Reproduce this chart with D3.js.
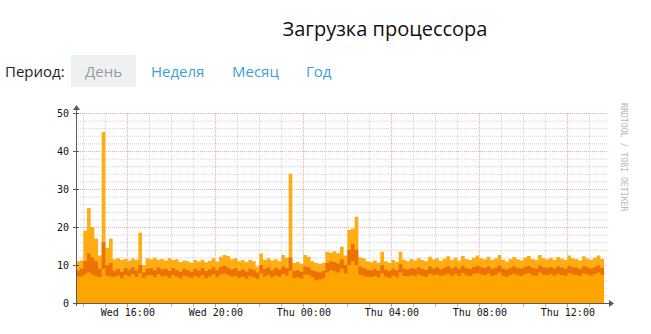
<!DOCTYPE html>
<html>
<head>
<meta charset="utf-8">
<script src="https://cdn.jsdelivr.net/npm/d3@7"></script>
<style>
  body { margin: 0; background: #fff; }
  svg { display: block; }
</style>
</head>
<body>
<svg id="chart" width="651" height="334"></svg>
<script>
// 10-minute samples, Wed 13:40 -> Thu 13:40
const startTime = new Date(2024, 0, 3, 13, 40);
const stepMinutes = 10;

const maxValues = [11,11.2,19,25,20,17,12.5,45,14.5,17,
  11.5,11.8,11.3,11.6,11.2,11.7,11.4,18.5,10,11.8,
  11.5,11.9,11.4,11.6,11.2,11.8,11.3,11.5,10.8,11.2,
  11,10.6,11.3,10.9,11.4,10.7,11.1,11.8,10.9,12.2,
  12.6,12.4,11.5,11.8,11,11.3,10.8,11.4,11,9.6,
  13,11.4,11.8,11.2,11.5,11,12.6,11.9,34,10.5,
  10.8,10.3,12.6,12.2,11,10.5,10.3,10.6,13.5,13.2,
  13.6,13.1,14.8,12.5,19.2,19.6,22.7,12,11.8,11,
  10.7,11.2,10.6,13.5,11,10.5,11.3,10.8,13.5,11.4,
  11,11.6,11.2,11.8,11.3,11,12.2,11.5,11.8,11.1,
  11.7,12.3,11.4,11.9,11.2,12.4,11.6,11.3,11.9,12.5,
  11.8,11.5,12.2,11.3,11.7,12.6,11.4,10.9,11.6,12.1,
  11.5,11.2,11.9,12.4,11.6,11.3,12.6,11.8,11.5,11.9,
  11.4,12.1,11.7,11.3,12.5,11.8,11.6,11.2,12.3,11.7,
  11.4,11.9,12.5,11.6,11.8];

const avgValues = [8.5,9,11,13,12,11,9,16,10,10.5,
  8.5,9,8.2,9.2,8.8,9.4,8.6,10,8,9,
  9.2,8.6,9.4,8.8,9,8.4,9.2,8.7,8.2,9,
  8.6,8.2,9,8.5,9.2,8.4,8.8,9.4,8.6,9.5,
  9.8,9.3,8.8,9.2,8.5,8.9,8.3,9,8.7,8,
  10,9,9.4,8.6,9.2,8.8,9.6,9.2,12,8.4,
  8.6,8.2,9.6,9.4,8.6,8.3,8,8.4,10.5,11,
  10.8,10.4,11.5,10,14,15.5,14,9.6,9.2,8.8,
  8.6,9,8.5,10,8.8,8.4,9,8.6,10.2,9,
  8.8,9.2,9,9.4,9,8.7,9.6,9.1,9.4,8.9,
  9.3,9.7,9.1,9.5,9,9.8,9.2,9,9.5,9.8,
  9.4,9.2,9.7,9,9.3,9.9,9.1,8.8,9.3,9.6,
  9.2,9,9.5,9.8,9.3,9.1,9.9,9.4,9.2,9.5,
  9.1,9.6,9.3,9,9.8,9.4,9.3,9,9.7,9.4,
  9.1,9.5,9.9,9.3,9.4];

const minValues = [7,7,7.5,8,7.5,7,6.8,9,7.2,7,
  6.8,7.2,6.5,7.4,7,7.6,6.9,7.8,6.6,7.3,
  7.4,6.8,7.6,7,7.2,6.6,7.4,6.9,6.5,7.2,
  6.9,6.5,7.2,6.7,7.4,6.6,7,7.6,6.8,7.5,
  7.8,7.3,6.9,7.2,6.6,7,6.4,7.1,6.8,6.3,
  7.8,7,7.4,6.7,7.2,6.9,7.6,7.2,8.5,6.6,
  6.8,6.4,7.5,7.4,6.8,6,6.2,6.5,8,8.6,
  8.4,8,9,7.8,10,11,10,7.5,7.2,6.9,
  6.8,7.1,6.7,7.9,7,6.6,7.2,6.8,8,7.1,
  7,7.3,7.1,7.5,7.2,6.9,7.7,7.3,7.5,7.1,
  7.4,7.8,7.2,7.6,7.1,7.9,7.3,7.1,7.6,7.9,
  7.5,7.3,7.8,7.1,7.4,8,7.2,6.9,7.4,7.7,
  7.3,7.1,7.6,7.9,7.4,7.2,8,7.5,7.3,7.6,
  7.2,7.7,7.4,7.1,7.9,7.5,7.4,7.1,7.8,7.5,
  7.2,7.6,8,7.4,7.5];

const yTicks = [0, 10, 20, 30, 40, 50];
const periods = ["Неделя", "Месяц", "Год"];

const svg = d3.select("#chart");
const plotLeft = 76, plotRight = 604, plotTop = 113, plotBottom = 303;

const times = maxValues.map((_, i) => d3.timeMinute.offset(startTime, i * stepMinutes));
const endTime = d3.timeHour.offset(startTime, 24);

const x = d3.scaleTime().domain([startTime, endTime]).range([plotLeft, plotRight]);
const y = d3.scaleLinear().domain([0, 50]).range([plotBottom, plotTop]);

// header
svg.append("text")
    .attr("x", 385).attr("y", 36)
    .attr("text-anchor", "middle")
    .style("font", "20px 'Open Sans', sans-serif")
    .attr("fill", "#111")
    .text("Загрузка процессора");

svg.append("text")
    .attr("x", 5).attr("y", 77)
    .style("font", "15px 'Open Sans', sans-serif")
    .attr("fill", "#222")
    .text("Период:");

svg.append("rect")
    .attr("x", 71).attr("y", 55).attr("width", 65).attr("height", 32)
    .attr("fill", "#eef1f4");

svg.append("text")
    .attr("x", 103.5).attr("y", 77)
    .attr("text-anchor", "middle")
    .style("font", "15px 'Open Sans', sans-serif")
    .attr("fill", "#9a9a9a")
    .text("День");

const linkX = [151, 232, 306];
svg.selectAll(".period")
    .data(periods)
    .enter()
    .append("text")
    .attr("class", "period")
    .attr("x", (d, i) => linkX[i]).attr("y", 77)
    .style("font", "15px 'Open Sans', sans-serif")
    .attr("fill", "#3a9fd6")
    .text(d => d);

// grid
const g = svg.append("g");
const minorY = d3.range(0, 51, 2).filter(v => v % 10 !== 0);
const hours = x.ticks(d3.timeHour.every(1));
const majorHours = x.ticks(d3.timeHour.every(4));
const isMajor = t => majorHours.some(m => +m === +t);

g.selectAll(".hgrid")
    .data(minorY)
    .enter()
    .append("line")
    .attr("x1", plotLeft).attr("x2", 608)
    .attr("y1", d => y(d) + 0.5).attr("y2", d => y(d) + 0.5)
    .attr("stroke", "#c0c0c0").attr("stroke-opacity", 0.7)
    .attr("stroke-dasharray", "1,1");

g.selectAll(".vgrid")
    .data(hours.filter(t => !isMajor(t)))
    .enter()
    .append("line")
    .attr("x1", d => Math.round(x(d)) + 0.5).attr("x2", d => Math.round(x(d)) + 0.5)
    .attr("y1", plotTop).attr("y2", plotBottom)
    .attr("stroke", "#c0c0c0").attr("stroke-opacity", 0.6)
    .attr("stroke-dasharray", "1,1");

g.selectAll(".hmgrid")
    .data(yTicks.slice(1))
    .enter()
    .append("line")
    .attr("x1", plotLeft).attr("x2", 608)
    .attr("y1", d => y(d) + 0.5).attr("y2", d => y(d) + 0.5)
    .attr("stroke", "#e08a8a").attr("stroke-opacity", 0.7)
    .attr("stroke-dasharray", "1,1");

g.selectAll(".vmgrid")
    .data(majorHours)
    .enter()
    .append("line")
    .attr("x1", d => Math.round(x(d)) + 0.5).attr("x2", d => Math.round(x(d)) + 0.5)
    .attr("y1", plotTop).attr("y2", plotBottom)
    .attr("stroke", "#e08a8a").attr("stroke-opacity", 0.7)
    .attr("stroke-dasharray", "1,1");

// areas (RRD-style steps)
const area = vals => d3.area()
    .curve(d3.curveStepAfter)
    .x((d, i) => x(times[i]))
    .y0(y(0))
    .y1((d, i) => y(vals[i]));

svg.append("path").datum(maxValues).attr("d", area(maxValues)).attr("fill", "#ffad12");
svg.append("path").datum(avgValues).attr("d", area(avgValues)).attr("fill", "#ec7204");
svg.append("path").datum(minValues).attr("d", area(minValues)).attr("fill", "#ffa500");

// axes
const axisColor = "#5a5a5a";
svg.append("line")
    .attr("x1", plotLeft - 3).attr("x2", 609)
    .attr("y1", plotBottom + 0.5).attr("y2", plotBottom + 0.5)
    .attr("stroke", axisColor);
svg.append("path")
    .attr("d", `M609,${plotBottom - 3}L614,${plotBottom + 0.5}L609,${plotBottom + 4}Z`)
    .attr("fill", axisColor);
svg.append("line")
    .attr("x1", plotLeft + 0.5).attr("x2", plotLeft + 0.5)
    .attr("y1", plotBottom + 3).attr("y2", 110)
    .attr("stroke", axisColor);
svg.append("path")
    .attr("d", `M${plotLeft - 3},110L${plotLeft + 0.5},105L${plotLeft + 4},110Z`)
    .attr("fill", axisColor);

// ticks
svg.selectAll(".ytick")
    .data(yTicks)
    .enter()
    .append("line")
    .attr("x1", plotLeft - 3).attr("x2", plotLeft + 3)
    .attr("y1", d => y(d) + 0.5).attr("y2", d => y(d) + 0.5)
    .attr("stroke", axisColor);

svg.selectAll(".xtick")
    .data(hours)
    .enter()
    .append("line")
    .attr("x1", d => Math.round(x(d)) + 0.5).attr("x2", d => Math.round(x(d)) + 0.5)
    .attr("y1", plotBottom + 1).attr("y2", plotBottom + 4)
    .attr("stroke", d => isMajor(d) ? "#d88" : "#d9a9a9");

const mono = "10px 'DejaVu Sans Mono', monospace";
svg.selectAll(".ylabel")
    .data(yTicks)
    .enter()
    .append("text")
    .attr("x", 69).attr("y", d => y(d) + 4)
    .attr("text-anchor", "end")
    .style("font", mono)
    .attr("fill", "#111")
    .text(d => d);

const fmt = d3.timeFormat("%a %H:%M");
svg.selectAll(".xlabel")
    .data(majorHours)
    .enter()
    .append("text")
    .attr("x", d => x(d) + 0.5).attr("y", 316)
    .attr("text-anchor", "middle")
    .style("font", mono)
    .attr("fill", "#111")
    .text(d => fmt(d));

svg.append("text")
    .attr("transform", "translate(621,103) rotate(90)")
    .style("font", "8.2px 'DejaVu Sans Mono', monospace")
    .attr("fill", "#b8b8b8")
    .text("RRDTOOL / TOBI OETIKER");
</script>
</body>
</html>
